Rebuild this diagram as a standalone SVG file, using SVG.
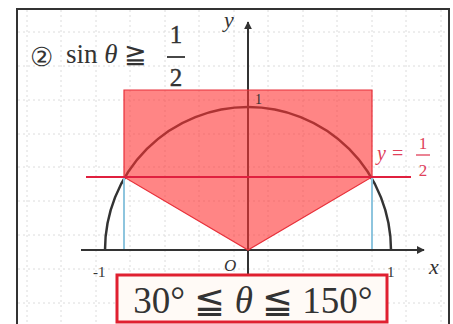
<svg xmlns="http://www.w3.org/2000/svg" width="453" height="324" viewBox="0 0 453 324">
<defs>
<style>
.grid{stroke:#dcdcdc;stroke-width:1;stroke-dasharray:2 3;fill:none}
.axis{stroke:#333;stroke-width:2;fill:none}
.lbl{font-family:"Liberation Serif",serif;fill:#333}
.it{font-style:italic}
.red{fill:#e0405a}
</style>
<marker id="arr" viewBox="0 0 10 10" refX="9" refY="5" markerWidth="4" markerHeight="4" orient="auto"><path d="M0,0 L10,5 L0,10 z" fill="#333"/></marker>
</defs>
<rect width="453" height="324" fill="#fff"/>
<g id="grid" class="grid">
<path d="M27,10V324M61,10V324M96,10V324M130,10V324M165,10V324M199,10V324M234,10V324M268,10V324M303,10V324M337,10V324M372,10V324M406,10V324M441,10V324"/>
<path d="M18,32H449M18,66H449M18,100H449M18,134H449M18,167H449M18,201H449M18,235H449M18,269H449M18,303H449"/>
</g>
<path d="M17,324V9H449V324" fill="none" stroke="#333" stroke-width="2"/>
<g id="title">
<text class="lbl" x="30" y="66" font-size="26" font-family="DejaVu Sans, sans-serif">②</text>
<text class="lbl" x="66" y="63" font-size="27">sin <tspan class="it">θ</tspan> ≧</text>
<text class="lbl" x="176" y="43" font-size="25" text-anchor="middle" stroke="#333" stroke-width="0.4">1</text>
<line x1="167" y1="57" x2="185" y2="57" stroke="#333" stroke-width="1.8"/>
<text class="lbl" x="176" y="86" font-size="25" text-anchor="middle" stroke="#333" stroke-width="0.4">2</text>
</g>
<g id="circle">
<path d="M105,250 A143,143 0 0 1 391,250" fill="none" stroke="#333" stroke-width="2.5"/>
</g>
<g id="connectors">
<line class="axis" x1="81" y1="250" x2="424" y2="250" marker-end="url(#arr)"/>
<line class="axis" x1="248" y1="276" x2="248" y2="22" marker-end="url(#arr)"/>
<line x1="124" y1="177" x2="124" y2="249" stroke="#8ec5de" stroke-width="2"/>
<line x1="372" y1="177" x2="372" y2="249" stroke="#8ec5de" stroke-width="2"/>
</g>
<g id="region">
<path d="M124,90 H372 V177 L248,250 L124,177 Z" fill="#ff3333" fill-opacity="0.6" stroke="#e8303a" stroke-width="1.2"/>
</g>
<g id="hline">
<line x1="86" y1="177" x2="411" y2="177" stroke="#e0203f" stroke-width="2"/>
<text class="lbl red it" x="377" y="160" font-size="20">y</text>
<text class="lbl red" x="392" y="160" font-size="20">=</text>
<text class="lbl red" x="423" y="149" font-size="17" text-anchor="middle">1</text>
<line x1="416" y1="155" x2="430" y2="155" stroke="#e0405a" stroke-width="1.3"/>
<text class="lbl red" x="423" y="176" font-size="17" text-anchor="middle">2</text>
</g>
<g id="labels">
<text class="lbl it" x="224" y="27" font-size="22">y</text>
<text class="lbl it" x="429" y="274" font-size="22">x</text>
<text class="lbl it" x="224" y="271" font-size="17">O</text>
<text class="lbl" x="255" y="104" font-size="14">1</text>
<text class="lbl" x="93" y="277" font-size="15">-1</text>
<text class="lbl" x="387" y="277" font-size="15">1</text>
</g>
<g id="answer">
<rect x="117" y="275" width="270" height="47" fill="#fffaf6" stroke="#e02030" stroke-width="3"/>
<text class="lbl" x="253" y="313" font-size="37" text-anchor="middle">30° ≦ <tspan class="it">θ</tspan> ≦ 150°</text>
</g>
</svg>
